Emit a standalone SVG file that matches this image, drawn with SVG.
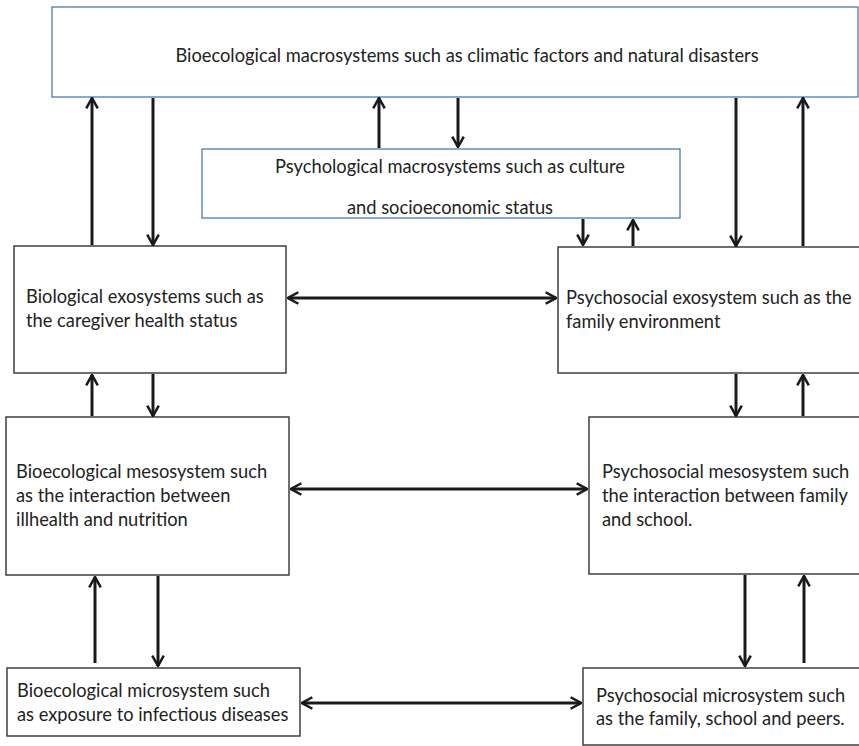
<svg xmlns="http://www.w3.org/2000/svg" width="859" height="746" viewBox="0 0 859 746">
<style>
.bx{fill:#fff;stroke:#3f3f3f;stroke-width:1.5}
.bb{fill:#fff;stroke:#3b6ea8;stroke-width:1.2}
.t{font-family:Lato,"Open Sans",sans-serif;font-size:18.3px;fill:#222}
.c{stroke:#1a1a1a;stroke-width:3;fill:none;marker-end:url(#h)}
.d{stroke:#1a1a1a;stroke-width:3;fill:none;marker-end:url(#h);marker-start:url(#hs)}
</style>
<defs>
<marker id="h" viewBox="0 0 12 12" refX="11" refY="6" markerWidth="4.6" markerHeight="4.6" orient="auto" markerUnits="strokeWidth">
<path d="M2,1 L11,6 L2,11" fill="none" stroke="#1a1a1a" stroke-width="2.2"/>
</marker>
<marker id="hs" viewBox="0 0 12 12" refX="1" refY="6" markerWidth="4.6" markerHeight="4.6" orient="auto" markerUnits="strokeWidth">
<path d="M10,1 L1,6 L10,11" fill="none" stroke="#1a1a1a" stroke-width="2.2"/>
</marker>
</defs>
<g id="bio-macro"><rect class="bb" x="52" y="7" width="806" height="90"/>
<text class="t" x="467" y="62" text-anchor="middle" font-size="18">Bioecological macrosystems such as climatic factors and natural disasters</text></g>
<g id="psych-macro"><rect class="bb" x="202" y="149" width="478" height="69"/>
<text class="t" x="450" y="173" text-anchor="middle">Psychological macrosystems such as culture</text>
<text class="t" x="450" y="214" text-anchor="middle">and socioeconomic status</text></g>
<g id="bio-exo"><rect class="bx" x="14" y="246" width="272" height="127"/>
<text class="t" x="26" y="303">Biological exosystems such as</text>
<text class="t" x="26" y="327">the caregiver health status</text></g>
<g id="psych-exo"><rect class="bx" x="558" y="247" width="302" height="126"/>
<text class="t" x="566" y="304">Psychosocial exosystem such as the</text>
<text class="t" x="566" y="328">family environment</text></g>
<g id="bio-meso"><rect class="bx" x="6" y="417" width="283" height="158"/>
<text class="t" x="16" y="478">Bioecological mesosystem such</text>
<text class="t" x="16" y="502">as the interaction between</text>
<text class="t" x="16" y="526">illhealth and nutrition</text></g>
<g id="psych-meso"><rect class="bx" x="589" y="417" width="271" height="157"/>
<text class="t" x="602" y="478">Psychosocial mesosystem such</text>
<text class="t" x="602" y="502">the interaction between family</text>
<text class="t" x="602" y="526">and school.</text></g>
<g id="bio-micro"><rect class="bx" x="7" y="668" width="293" height="68"/>
<text class="t" x="17" y="697">Bioecological microsystem such</text>
<text class="t" x="17" y="721">as exposure to infectious diseases</text></g>
<g id="psych-micro"><rect class="bx" x="583" y="668" width="277" height="77"/>
<text class="t" x="596" y="702">Psychosocial microsystem such</text>
<text class="t" x="596" y="725">as the family, school and peers.</text></g>
<g id="connectors">
<line class="c" x1="379" y1="148" x2="379" y2="98"/>
<line class="c" x1="458" y1="98" x2="458" y2="147"/>
<line class="c" x1="583" y1="219" x2="583" y2="245"/>
<line class="c" x1="633" y1="246" x2="633" y2="220"/>
<line class="c" x1="92" y1="245" x2="92" y2="98"/>
<line class="c" x1="153" y1="98" x2="153" y2="245"/>
<line class="c" x1="736" y1="98" x2="736" y2="246"/>
<line class="c" x1="803" y1="246" x2="803" y2="98"/>
<line class="d" x1="288" y1="298" x2="556" y2="298"/>
<line class="c" x1="92" y1="416" x2="92" y2="375"/>
<line class="c" x1="153" y1="374" x2="153" y2="416"/>
<line class="c" x1="736" y1="374" x2="736" y2="416"/>
<line class="c" x1="803" y1="416" x2="803" y2="375"/>
<line class="d" x1="291" y1="489" x2="587" y2="489"/>
<line class="c" x1="95" y1="663" x2="95" y2="577"/>
<line class="c" x1="158" y1="576" x2="158" y2="666"/>
<line class="c" x1="745" y1="575" x2="745" y2="666"/>
<line class="c" x1="804" y1="663" x2="804" y2="576"/>
<line class="d" x1="302" y1="703" x2="581" y2="703"/>
</g>
</svg>
